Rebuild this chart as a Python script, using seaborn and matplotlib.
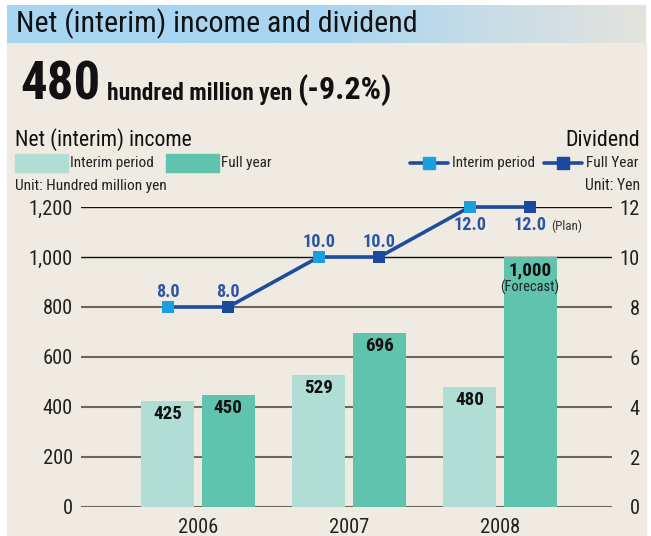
import numpy as np
import pandas as pd
import matplotlib
matplotlib.use("Agg")
import matplotlib.pyplot as plt
import seaborn as sns
from matplotlib.patches import Rectangle
from matplotlib.lines import Line2D

# data
years = ["2006", "2007", "2008"]
income_interim = [425, 529, 480]
income_full = [450, 696, 1000]
div_interim = [8.0, 10.0, 12.0]
div_full = [8.0, 10.0, 12.0]

W, H = 651, 536
BEIGE = "#EFEBE2"
C_INT = "#B0DED4"
C_FULL = "#60C3AE"
C_LINE = "#1F4B9E"
C_MK_INT = "#1AA0DC"
C_MK_FULL = "#1B4A9C"
C_LBL = "#2E55A5"

sns.set_theme(style="white")
plt.rcParams['font.family'] = ['Liberation Sans Narrow', 'Roboto Condensed', 'DejaVu Sans']
plt.rcParams['font.stretch'] = 'condensed'


def fx(x):
    return x / W


def fy(y):
    return 1 - y / H


fig = plt.figure(figsize=(W / 100, H / 100), dpi=100, facecolor="white")
renderer = fig.canvas.get_renderer()


def fit(txt, width):
    # scale a text so that it is about `width` pixels wide
    w = txt.get_window_extent(renderer).width
    txt.set_fontsize(txt.get_fontsize() * width / w)
    return txt


def size_for(s, width, **kw):
    t = fig.text(0, 0, s, fontsize=10, **kw)
    w = t.get_window_extent(renderer).width
    t.remove()
    return 10 * width / w


# beige background + title band
fig.patches.append(Rectangle((fx(7), fy(536)), fx(646) - fx(7), fy(43) - fy(536),
                             transform=fig.transFigure, color=BEIGE, zorder=-5))
band = fig.add_axes([fx(7), fy(43), fx(646) - fx(7), fy(5) - fy(43)])
c0 = np.array(matplotlib.colors.to_rgb("#A8D5F1"))
c1 = np.array(matplotlib.colors.to_rgb("#E4E3DD"))
t = np.clip((np.linspace(0, 1, 300) - 0.5) / 0.5, 0, 1)
grad = c0[None, :] * (1 - t[:, None]) + c1[None, :] * t[:, None]
band.imshow(grad[None, :, :], aspect="auto", extent=(0, 1, 0, 1))
band.set_axis_off()

# headline texts
fit(fig.text(fx(16), fy(24), "Net (interim) income and dividend", fontsize=19,
             ha="left", va="center", color="#111111"), 403)
fit(fig.text(fx(20), fy(100), "480", fontsize=40, fontweight="bold", ha="left",
             va="baseline", color="#111111"), 80)
fit(fig.text(fx(107), fy(100), "hundred million yen", fontsize=16, fontweight="bold",
             ha="left", va="baseline", color="#111111"), 185)
fit(fig.text(fx(297), fy(99), "(-9.2%)", fontsize=24, fontweight="bold", ha="left",
             va="baseline", color="#111111"), 95)

fit(fig.text(fx(15), fy(146), "Net (interim) income", fontsize=16, ha="left",
             va="baseline", color="#111111"), 178)
fit(fig.text(fx(640), fy(146), "Dividend", fontsize=16, ha="right", va="baseline",
             color="#111111"), 75)
fit(fig.text(fx(15), fy(186), "Unit: Hundred million yen", fontsize=11, ha="left",
             va="center", color="#222222"), 152)
fit(fig.text(fx(640), fy(186), "Unit: Yen", fontsize=11, ha="right", va="center",
             color="#222222"), 55)

# bar legend
for x0, col, lab, w in [(15, C_INT, "Interim period", 84), (166, C_FULL, "Full year", 51)]:
    fig.patches.append(Rectangle((fx(x0), fy(172)), fx(53), 18 / H,
                                 transform=fig.transFigure, color=col))
    fit(fig.text(fx(x0 + 55), fy(163), lab, fontsize=12.5, ha="left", va="center",
                 color="#222222"), w)

# line legend
for x0, col, lab, w in [(410, C_MK_INT, "Interim period", 83), (544, C_MK_FULL, "Full Year", 53)]:
    fig.lines.append(Line2D([fx(x0), fx(x0 + 38)], [fy(163), fy(163)],
                            transform=fig.transFigure, color=C_LINE, lw=2.6))
    fig.lines.append(Line2D([fx(x0 + 19)], [fy(163)], transform=fig.transFigure,
                            marker="s", ms=8, color=col, lw=0))
    fit(fig.text(fx(x0 + 42), fy(163), lab, fontsize=12.5, ha="left", va="center",
                 color="#222222"), w)

tick_fs = size_for("1,200", 44)
val_fs = size_for("1,000", 43, fontweight="bold")
div_fs = size_for("12.0", 33, fontweight="bold")
fc_fs = size_for("(Forecast)", 59)
plan_fs = size_for("(Plan)", 31)

# main axes
ax = fig.add_axes([fx(81), fy(507), fx(612) - fx(81), fy(207) - fy(507)])
ax.set_facecolor("none")

df = pd.DataFrame({
    "year": years * 2,
    "income": income_interim + income_full,
    "period": ["Interim period"] * 3 + ["Full year"] * 3,
})
sns.barplot(data=df, x="year", y="income", hue="period", palette=[C_INT, C_FULL],
            width=0.8, gap=0.12, saturation=1, legend=False, ax=ax,
            edgecolor="none", linewidth=0)

ax.set_xlim(-0.775, 2.742)
ax.set_ylim(0, 1200)
ax.set_yticks(range(0, 1201, 200))
ax.set_yticklabels([f"{v:,}" for v in range(0, 1201, 200)])
ax.set_xlabel("")
ax.set_ylabel("")
for s in ax.spines.values():
    s.set_visible(False)
ax.tick_params(axis="y", length=0, pad=6, labelsize=tick_fs, labelcolor="#222222")
ax.tick_params(axis="x", length=0, pad=8, labelsize=tick_fs, labelcolor="#222222")
ax.set_axisbelow(True)
ax.grid(axis="y")
for v, gl in zip(ax.get_yticks(), ax.get_ygridlines()):
    if v >= 1000:
        gl.set_color("#111111")
        gl.set_linewidth(1.0)
    else:
        gl.set_color("#6B665F")
        gl.set_linewidth(1.5)

# bar labels
for cont in ax.containers:
    for bar in cont:
        h = bar.get_height()
        ax.annotate(f"{int(h):,}", (bar.get_x() + bar.get_width() / 2, h),
                    xytext=(0, -3), textcoords="offset points", ha="center", va="top",
                    fontsize=val_fs, fontweight="bold", color="#111111")
last = ax.containers[1][2]
ax.annotate("(Forecast)", (last.get_x() + last.get_width() / 2, last.get_height()),
            xytext=(0, -16), textcoords="offset points", ha="center", va="top",
            fontsize=fc_fs, color="#222222")

# dividend line
ax2 = ax.twinx()
pos = []
vals = []
kinds = []
for i in range(len(years)):
    pos += [i - 0.2, i + 0.2]
    vals += [div_interim[i], div_full[i]]
    kinds += ["Interim period", "Full Year"]
ddf = pd.DataFrame({"pos": pos, "div": vals, "kind": kinds})
sns.lineplot(data=ddf, x="pos", y="div", sort=False, color=C_LINE, lw=2.6, ax=ax2)
sns.scatterplot(data=ddf, x="pos", y="div", hue="kind", palette=[C_MK_INT, C_MK_FULL],
                marker="s", s=75, edgecolor="none", legend=False, ax=ax2, zorder=5)
for art in ax2.lines + ax2.collections:
    art.set_clip_on(False)

ax2.set_ylim(0, 12)
ax2.set_xlim(-0.775, 2.742)
ax2.set_yticks(range(0, 13, 2))
ax2.set_xlabel("")
ax2.set_ylabel("")
for s in ax2.spines.values():
    s.set_visible(False)
ax2.tick_params(axis="y", length=0, pad=20, labelsize=tick_fs, labelcolor="#222222")
for lab in ax2.get_yticklabels():
    lab.set_ha("right")
ax2.grid(False)

for p, v in zip(pos, vals):
    off = -13 if v >= 12 else 11
    ax2.annotate(f"{v:.1f}", (p, v), xytext=(0, off), textcoords="offset points",
                 ha="center", va="center", fontsize=div_fs, fontweight="bold", color=C_LBL)
ax2.annotate("(Plan)", (pos[-1], vals[-1]), xytext=(15, -14), textcoords="offset points",
             ha="left", va="center", fontsize=plan_fs, color="#333333")

fig.savefig("out.png", dpi=100, facecolor="white")
